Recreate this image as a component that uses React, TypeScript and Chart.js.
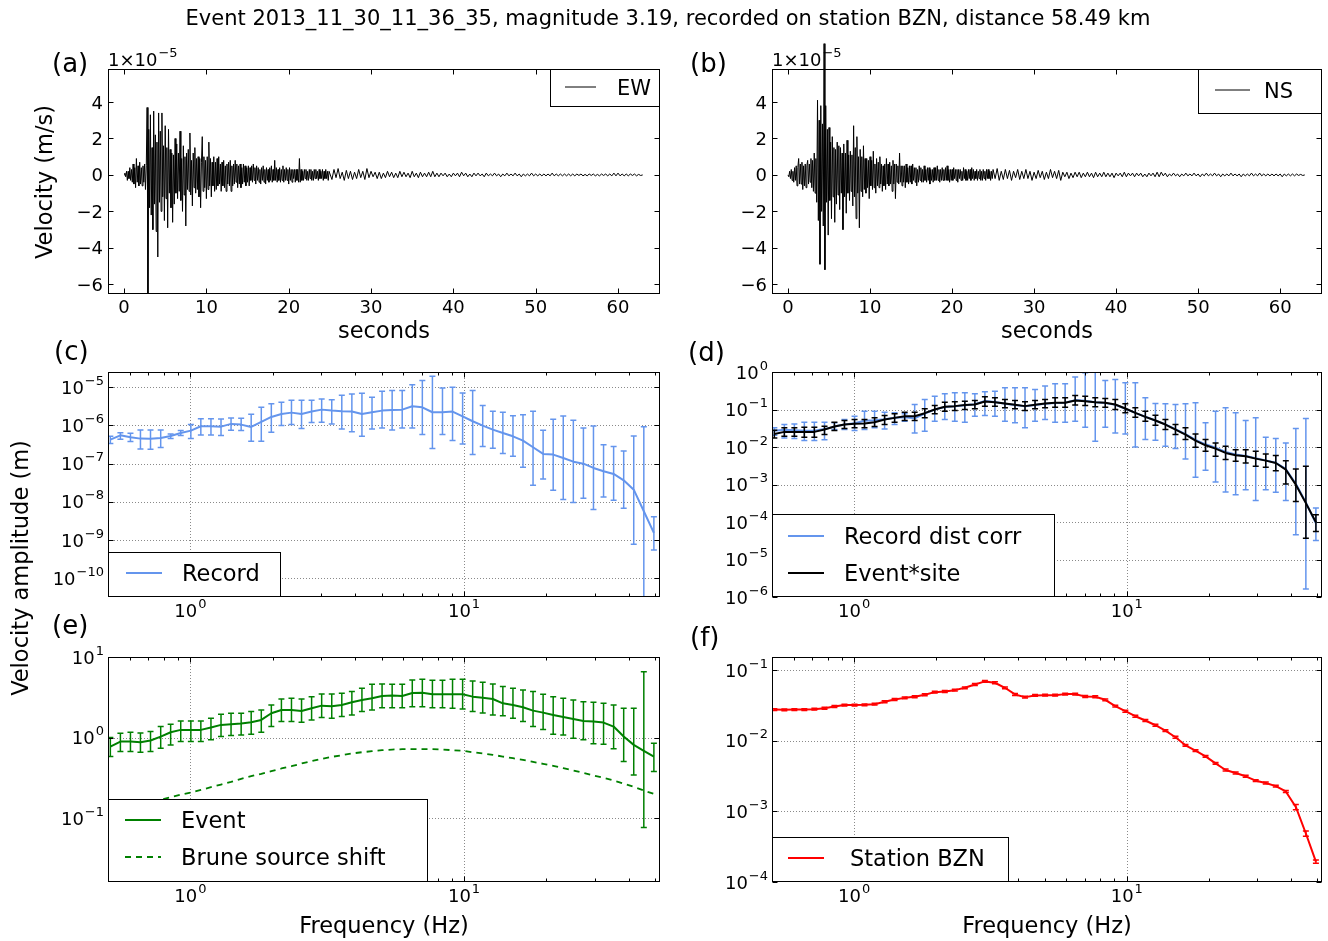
import React, { useEffect, useRef } from "react";
import { Chart, registerables } from "chart.js";

Chart.register(...registerables);

const PAGE_W = 1328;
const PAGE_H = 941;
const FONT = "'DejaVu Sans', 'Bitstream Vera Sans', sans-serif";
const TICK = 18;
const LABEL = 22.5;

const TITLE = "Event 2013_11_30_11_36_35, magnitude 3.19, recorded on station BZN, distance 58.49 km";

// ---- waveforms, velocity in units of 1e-5 m/s ----
const STRONG_DT = 0.1; // s, samples 0 .. 24.9 s
const CODA_T0 = 25;
const CODA_DT = 0.25; // s, samples 25 .. 63 s

const EW_STRONG = [
  0, 0.1, -0.1, 0.2, -0.3, 0.2, -0.2, 0.4, -0.3, 0.3,
  -0.4, 0.6, -0.5, 0.4, -0.7, 0.9, -0.4, 0.5, -0.6, 0.7,
  -0.5, 0.4, -0.6, 0.5, -0.4, 0.6, -0.8, 0.5, 3.7, -6.55,
  2.5, -1.8, 3.3, -2.2, 1.5, -3.0, 3.5, -1.6, 2.2, -3.1,
  1.8, -4.5, 3.4, -1.5, 2.4, -2.0, 3.4, -1.2, 1.6, -2.5,
  2.7, -1.3, 1.5, -2.9, 2.5, -1.0, 1.4, -1.8, 1.2, -2.6,
  1.1, -1.6, 2.0, -1.0, 1.7, -1.3, 1.2, -0.9, 2.4, -1.4,
  0.9, -2.0, 1.6, -1.1, 1.0, -2.8, 1.2, -0.8, 1.4, -0.9,
  2.3, -1.1, 0.8, -1.7, 1.2, -0.7, 1.5, -1.0, 0.9, -0.8,
  1.0, -1.2, 0.9, -1.8, 0.7, 2.1, -0.9, 1.0, -0.7, 0.8,
  -1.3, 1.0, -0.8, 1.8, -0.6, 0.9, -1.2, 0.7, -0.6, 1.0,
  -0.9, 0.7, -0.8, 0.9, -0.6, 1.0, -0.5, 0.6, -0.9, 0.7,
  -0.6, 0.8, -0.7, 0.5, -0.9, 0.6, -0.5, 0.7, -0.6, 0.8,
  -0.9, 0.5, -0.6, 0.6, -0.5, 0.8, -0.4, 0.6, -0.7, 0.5,
  -0.5, 0.6, -0.7, 0.4, -0.5, 0.6, -0.4, 0.5, -0.6, 0.4,
  -0.4, 0.5, -0.6, 0.4, -0.3, 0.5, -0.4, 0.6, -0.3, 0.4,
  -0.5, 0.5, -0.3, 0.4, -0.4, 0.3, -0.5, 0.4, -0.3, 0.5,
  -0.4, 0.3, -0.5, 0.4, -0.3, 0.3, -0.4, 0.4, -0.3, 0.5,
  -0.4, 0.3, -0.3, 0.8, -0.3, 0.4, -0.4, 0.3, -0.3, 0.4,
  -0.4, 0.3, -0.3, 0.5, -0.4, 0.3, -0.3, 0.4, -0.3, 0.3,
  -0.5, 0.4, -0.3, 0.3, -0.4, 0.3, -0.2, 0.3, -0.4, 0.3,
  -0.3, 0.3, -0.4, 0.9, -0.4, 0.3, -0.3, 0.2, -0.3, 0.3,
  -0.2, 0.3, -0.3, 0.2, -0.3, 0.3, -0.2, 0.3, -0.3, 0.2,
  -0.3, 0.3, -0.2, 0.3, -0.2, 0.2, -0.3, 0.3, -0.2, 0.2,
  -0.2, 0.3, -0.3, 0.2, -0.2, 0.3, -0.2, 0.2, -0.3, 0.2,
];
const EW_CODA = [
  0.2, -0.25, 0.3, -0.15, 0.35, -0.2, 0.15, -0.3,
  0.25, -0.2, 0.2, -0.25, 0.15, -0.2, 0.3, -0.15,
  0.2, -0.25, 0.35, -0.15, 0.2, -0.1, 0.15, -0.2,
  0.15, -0.2, 0.1, -0.15, 0.2, -0.1, 0.15, -0.15,
  0.1, -0.15, 0.2, -0.1, 0.15, -0.1, 0.1, -0.15,
  0.2, -0.1, 0.1, -0.15, 0.15, -0.1, 0.1, -0.1,
  0.15, -0.1, 0.2, -0.1, 0.1, -0.1, 0.1, -0.05,
  0.1, -0.1, 0.05, -0.1, 0.1, -0.05, 0.1, -0.1,
  0.15, -0.05, 0.1, -0.1, 0.05, -0.1, 0.1, -0.05,
  0.1, -0.05, 0.05, -0.1, 0.1, -0.05, 0.05, -0.05,
  0.1, -0.05, 0.05, -0.1, 0.05, -0.05, 0.1, -0.05,
  0.05, -0.05, 0.1, -0.05, 0.05, -0.1, 0.05, -0.05,
  0.05, -0.05, 0.1, -0.05, 0.05, -0.05, 0.05, -0.05,
  0.05, -0.05, 0.05, -0.05, 0.1, -0.05, 0.05, -0.05,
  0.05, -0.05, 0.05, -0.05, 0.05, -0.05, 0.05, -0.05,
  0.05, -0.03, 0.05, -0.05, 0.03, -0.05, 0.05, -0.03,
  0.05, -0.05, 0.03, -0.05, 0.05, -0.03, 0.05, -0.05,
  0.05, -0.05, 0.1, -0.05, 0.1, -0.05, 0.05, -0.05,
  0.05, -0.05, 0.05, -0.03, 0.05, -0.05, 0.03, -0.03,
  0,
];
const NS_STRONG = [
  0, -0.1, 0.2, -0.2, 0.3, -0.3, 0.2, -0.4, 0.4, -0.3,
  0.5, -0.6, 0.4, 0.9, -0.5, 0.6, -0.5, 0.7, -0.8, 0.5,
  -0.6, 0.6, -0.7, 0.5, 0.8, -0.5, 0.6, -0.4, 0.9, -0.7,
  0.8, -0.9, 1.2, -1.0, 0.9, -1.5, 4.1, -2.5, 3.0, -4.9,
  3.8, -2.0, 2.8, -2.8, 7.2, -5.2, 3.8, -1.5, 2.5, -3.3,
  2.6, -1.4, 1.8, -2.4, 2.1, -1.2, 1.5, -2.6, 1.4, -1.6,
  1.8, -1.1, 1.6, -1.9, 1.5, -1.0, 1.2, -3.0, 1.7, -1.2,
  1.2, -2.1, 1.9, -1.0, 1.1, -1.4, 1.3, -0.9, 1.1, -1.7,
  2.7, -1.2, 1.5, -2.4, 2.1, -1.0, 1.0, -2.9, 1.4, -0.9,
  1.0, -1.2, 1.6, -0.8, 0.9, -1.0, 0.9, -0.7, 0.8, -1.3,
  1.0, -0.6, 0.8, -0.8, 1.3, -0.7, 0.6, -1.0, 0.9, -0.6,
  0.7, -0.7, 1.0, -0.5, 0.6, -0.9, 0.5, -0.6, 0.6, -0.8,
  0.9, -0.5, 0.6, -0.6, 0.7, -0.5, 0.5, -0.9, 0.8, -0.5,
  0.6, -1.3, 0.6, -0.4, 0.5, -0.5, 1.2, -0.4, 0.5, -0.6,
  0.5, -0.4, 0.5, -0.7, 0.6, -0.4, 0.4, -0.5, 0.5, -0.4,
  0.5, -0.5, 0.6, -0.3, 0.4, -0.4, 0.4, -0.6, 0.3, -0.4,
  0.5, -0.3, 0.4, -0.4, 0.3, -0.4, 0.5, -0.3, 0.3, -0.4,
  0.4, -0.3, 0.4, -0.5, 0.3, -0.3, 0.3, -0.4, 0.4, -0.3,
  0.4, -0.3, 0.5, -0.3, 0.3, -0.4, 0.3, -0.3, 0.4, -0.3,
  0.3, -0.3, 0.4, -0.3, 0.5, -0.3, 0.3, -0.4, 0.3, -0.3,
  0.3, -0.3, 0.4, -0.2, 0.3, -0.3, 0.3, -0.4, 0.3, -0.2,
  0.3, -0.3, 0.2, -0.3, 0.4, -0.2, 0.3, -0.3, 0.2, -0.3,
  0.3, -0.2, 0.3, -0.3, 0.4, -0.2, 0.3, -0.3, 0.2, -0.2,
  0.3, -0.3, 0.2, -0.2, 0.3, -0.3, 0.2, -0.3, 0.3, -0.2,
  0.2, -0.3, 0.3, -0.2, 0.3, -0.2, 0.2, -0.3, 0.2, -0.2,
];
const NS_CODA = [
  0.3, -0.2, 0.35, -0.3, 0.2, -0.25, 0.3, -0.2,
  0.25, -0.3, 0.2, -0.15, 0.3, -0.25, 0.2, -0.2,
  0.3, -0.2, 0.2, -0.3, 0.15, -0.2, 0.25, -0.15,
  0.2, -0.25, 0.15, -0.2, 0.3, -0.15, 0.2, -0.2,
  0.25, -0.3, 0.15, -0.1, 0.15, -0.2, 0.1, -0.15,
  0.15, -0.1, 0.15, -0.15, 0.1, -0.1, 0.15, -0.1,
  0.1, -0.15, 0.15, -0.1, 0.1, -0.1, 0.15, -0.1,
  0.1, -0.1, 0.1, -0.15, 0.1, -0.05, 0.1, -0.1,
  0.15, -0.1, 0.1, -0.05, 0.1, -0.1, 0.1, -0.05,
  0.1, -0.1, 0.05, -0.1, 0.1, -0.05, 0.1, -0.1,
  0.15, -0.1, 0.15, -0.05, 0.1, -0.1, 0.05, -0.05,
  0.1, -0.05, 0.05, -0.1, 0.05, -0.05, 0.1, -0.05,
  0.05, -0.05, 0.1, -0.05, 0.05, -0.1, 0.05, -0.05,
  0.1, -0.05, 0.05, -0.05, 0.1, -0.05, 0.05, -0.1,
  0.05, -0.05, 0.05, -0.05, 0.1, -0.05, 0.05, -0.05,
  0.05, -0.1, 0.05, -0.05, 0.05, -0.05, 0.1, -0.05,
  0.05, -0.05, 0.1, -0.05, 0.05, -0.05, 0.05, -0.05,
  0.05, -0.05, 0.05, -0.05, 0.05, -0.1, 0.05, -0.05,
  0.05, -0.05, 0.05, -0.05, 0.05, -0.03, 0.03, -0.03,
  0,
];

const SECONDS_TICKS = [0, 10, 20, 30, 40, 50, 60];
const VEL_TICKS = [-6, -4, -2, 0, 2, 4];

// ---- spectra ----
const FREQ = [
  0.510, 0.555, 0.604, 0.657, 0.715, 0.779, 0.847, 0.922, 1.004, 1.092,
  1.189, 1.294, 1.408, 1.533, 1.668, 1.816, 1.976, 2.151, 2.341, 2.548,
  2.773, 3.018, 3.285, 3.575, 3.891, 4.235, 4.610, 5.017, 5.461, 5.943,
  6.469, 7.040, 7.663, 8.340, 9.077, 9.880, 10.75, 11.70, 12.74, 13.86,
  15.09, 16.42, 17.87, 19.45, 21.17, 23.04, 25.08, 27.30, 29.71, 32.34,
  35.20, 38.31, 41.69, 45.38, 49.39,
];
const FREQ_MAJOR = [1, 10];
const FREQ_MINOR = [0.5, 0.6, 0.7, 0.8, 0.9, 2, 3, 4, 5, 6, 7, 8, 9, 20, 30, 40, 50];

// (c) Record
const REC = [
  4.27e-7, 5.53e-7, 4.91e-7, 4.53e-7, 4.5e-7, 4.72e-7, 5.32e-7, 6.38e-7, 7.34e-7, 9.53e-7,
  9.5e-7, 9.33e-7, 1.10e-6, 1.054e-6, 9.16e-7, 1.24e-6, 1.67e-6, 2.00e-6, 2.17e-6, 2.00e-6,
  2.31e-6, 2.60e-6, 2.45e-6, 2.36e-6, 2.31e-6, 2.00e-6, 2.22e-6, 2.45e-6, 2.55e-6, 2.60e-6,
  3.18e-6, 2.99e-6, 2.22e-6, 2.22e-6, 2.31e-6, 1.74e-6, 1.29e-6, 9.93e-7, 7.80e-7, 6.38e-7,
  5.21e-7, 4.02e-7, 2.69e-7, 1.80e-7, 1.73e-7, 1.41e-7, 1.13e-7, 1.00e-7, 7.73e-8, 6.32e-8,
  5.38e-8, 3.67e-8, 2.09e-8, 5.68e-9, 1.54e-9,
];
const REC_HI = [
  5.21e-7, 6.50e-7, 6.25e-7, 7.64e-7, 7.6e-7, 7.64e-7, 6.00e-7, 7.34e-7, 1.054e-6, 1.51e-6,
  1.51e-6, 1.48e-6, 1.57e-6, 1.54e-6, 1.96e-6, 2.99e-6, 3.73e-6, 4.05e-6, 4.57e-6, 4.57e-6,
  4.57e-6, 4.95e-6, 4.75e-6, 6.18e-6, 6.68e-6, 6.97e-6, 5.47e-6, 7.85e-6, 8.18e-6, 8.18e-6,
  1.17e-5, 1.50e-5, 1.94e-5, 9.6e-6, 1.0e-5, 7.11e-6, 8.18e-6, 3.31e-6, 2.36e-6, 2.22e-6,
  1.81e-6, 1.92e-6, 2.36e-6, 7.48e-7, 1.45e-6, 1.78e-6, 1.37e-6, 8.61e-7, 9.72e-7, 3.15e-7,
  2.80e-7, 2.15e-7, 5.32e-7, 9.33e-7, 4.11e-9,
];
const REC_LO = [
  3.35e-7, 4.36e-7, 3.78e-7, 2.43e-7, 2.4e-7, 2.64e-7, 4.53e-7, 5.43e-7, 4.53e-7, 5.65e-7,
  5.65e-7, 5.43e-7, 7.48e-7, 7.34e-7, 3.85e-7, 3.85e-7, 6.64e-7, 9.93e-7, 1.054e-6, 8.28e-7,
  1.19e-6, 1.21e-6, 1.10e-6, 8.11e-7, 6.90e-7, 5.21e-7, 8.11e-7, 8.61e-7, 7.64e-7, 8.61e-7,
  8.61e-7, 5.77e-7, 2.48e-7, 5.77e-7, 4.02e-7, 3.29e-7, 1.73e-7, 2.80e-7, 2.53e-7, 1.84e-7,
  1.56e-7, 8.05e-8, 2.72e-8, 3.98e-8, 2.01e-8, 1.15e-8, 9.57e-9, 1.24e-8, 6.28e-9, 1.35e-8,
  1.10e-8, 6.79e-9, 7.76e-10, 0, 5.52e-10,
];

// (d) Record dist corr (blue) and Event*site (black)
const REC_CORR = [
  0.027, 0.029, 0.028, 0.027, 0.027, 0.030, 0.035, 0.040, 0.043, 0.050,
  0.052, 0.055, 0.060, 0.062, 0.058, 0.078, 0.100, 0.117, 0.122, 0.130,
  0.138, 0.168, 0.158, 0.143, 0.131, 0.122, 0.131, 0.143, 0.150, 0.152,
  0.178, 0.170, 0.155, 0.148, 0.134, 0.105, 0.081, 0.064, 0.051, 0.040,
  0.030, 0.022, 0.0155, 0.0118, 0.0096, 0.0074, 0.0063, 0.0058, 0.0050, 0.0044,
  0.0038, 0.0026, 0.00105, 0.00033, 0.000092,
];
const REC_CORR_HI = [
  0.0324, 0.0397, 0.0413, 0.0458, 0.0458, 0.0458, 0.0440, 0.0541, 0.0664, 0.0902,
  0.0902, 0.0849, 0.0815, 0.0766, 0.136, 0.185, 0.227, 0.262, 0.279, 0.279,
  0.262, 0.297, 0.309, 0.379, 0.379, 0.379, 0.342, 0.421, 0.486, 0.486,
  0.733, 0.955, 1.15, 0.596, 0.634, 0.516, 0.516, 0.205, 0.145, 0.142,
  0.136, 0.142, 0.151, 0.0440, 0.0902, 0.111, 0.0815, 0.0508, 0.0598, 0.0182,
  0.0168, 0.01285, 0.0310, 0.0574, 0.000235,
];
const REC_CORR_LO = [
  0.0206, 0.01746, 0.0168, 0.0148, 0.0148, 0.0155, 0.0292, 0.0292, 0.0275, 0.0292,
  0.0324, 0.0304, 0.0397, 0.0488, 0.0238, 0.0264, 0.0488, 0.0541, 0.0488, 0.0458,
  0.0664, 0.0692, 0.0664, 0.0488, 0.0440, 0.0324, 0.0488, 0.0541, 0.0458, 0.0458,
  0.0488, 0.0337, 0.0142, 0.0337, 0.0238, 0.0223, 0.01005, 0.0158, 0.0151, 0.01047,
  0.00906, 0.00480, 0.00155, 0.00239, 0.00116, 0.00063, 0.000533, 0.000726, 0.000377, 0.000726,
  0.000617, 0.000377, 0.0000455, 0.00000164, 0.000032,
];
const EV_SITE = [
  0.0223, 0.0253, 0.0253, 0.0253, 0.0253, 0.0292, 0.0351, 0.0397, 0.0414, 0.0423,
  0.0458, 0.0541, 0.0598, 0.0664, 0.0664, 0.0798, 0.100, 0.118, 0.123, 0.131,
  0.136, 0.164, 0.157, 0.145, 0.133, 0.123, 0.133, 0.145, 0.151, 0.151,
  0.174, 0.167, 0.157, 0.151, 0.136, 0.106, 0.0815, 0.0637, 0.0508, 0.0397,
  0.0292, 0.0215, 0.0148, 0.0111, 0.00906, 0.00694, 0.00601, 0.00565, 0.00490, 0.00433,
  0.00375, 0.00249, 0.000989, 0.000319, 0.000099,
];
const EV_SITE_HI = [
  0.0280, 0.0324, 0.0324, 0.0337, 0.0337, 0.0358, 0.0458, 0.0508, 0.0541, 0.0541,
  0.0598, 0.0692, 0.0766, 0.0849, 0.0849, 0.1043, 0.128, 0.157, 0.160, 0.167,
  0.174, 0.218, 0.205, 0.185, 0.174, 0.160, 0.174, 0.185, 0.205, 0.205,
  0.237, 0.227, 0.205, 0.197, 0.185, 0.142, 0.111, 0.0902, 0.0705, 0.0541,
  0.0397, 0.0324, 0.0223, 0.0158, 0.01285, 0.01047, 0.00851, 0.00851, 0.00769, 0.00653,
  0.00589, 0.00433, 0.00259, 0.00305, 0.000156,
];
const EV_SITE_LO = [
  0.01746, 0.0194, 0.0194, 0.0182, 0.0182, 0.0215, 0.0275, 0.0310, 0.0324, 0.0324,
  0.0351, 0.0397, 0.0458, 0.0508, 0.0508, 0.0598, 0.0766, 0.0902, 0.0940, 0.100,
  0.104, 0.123, 0.123, 0.111, 0.104, 0.094, 0.104, 0.111, 0.1154, 0.1154,
  0.131, 0.128, 0.118, 0.115, 0.100, 0.0815, 0.0624, 0.0488, 0.0381, 0.0292,
  0.0215, 0.0158, 0.00984, 0.00769, 0.00565, 0.00461, 0.00416, 0.00375, 0.00305, 0.00287,
  0.00234, 0.00103, 0.000354, 0.000037, 0.0000558,
];

// (e) Event and Brune source shift
const EVENT = [
  0.773, 0.892, 0.892, 0.875, 0.918, 1.029, 1.164, 1.245, 1.245, 1.245,
  1.330, 1.436, 1.463, 1.492, 1.549, 1.656, 2.004, 2.20, 2.20, 2.14,
  2.31, 2.49, 2.44, 2.54, 2.74, 2.93, 3.07, 3.28, 3.32, 3.28,
  3.58, 3.61, 3.44, 3.44, 3.44, 3.44, 3.22, 3.13, 3.01, 2.66,
  2.54, 2.38, 2.16, 2.04, 1.91, 1.80, 1.70, 1.61, 1.578, 1.535,
  1.369, 1.029, 0.811, 0.684, 0.581,
];
const EVENT_HI = [
  1.0, 1.132, 1.164, 1.143, 1.187, 1.369, 1.463, 1.609, 1.609, 1.609,
  1.737, 1.946, 2.004, 2.004, 2.10, 2.20, 2.54, 3.01, 3.07, 3.01,
  3.22, 3.48, 3.48, 3.55, 3.72, 4.09, 4.58, 4.62, 4.58, 4.58,
  5.19, 5.29, 5.14, 5.14, 5.29, 5.29, 5.04, 4.85, 4.62, 4.29,
  4.09, 3.90, 3.72, 3.44, 3.22, 3.07, 2.93, 2.79, 2.74, 2.66,
  2.54, 2.31, 2.31, 6.58, 0.851,
];
const EVENT_LO = [
  0.581, 0.670, 0.670, 0.658, 0.670, 0.738, 0.811, 0.892, 0.892, 0.892,
  0.936, 1.029, 1.059, 1.079, 1.10, 1.164, 1.369, 1.578, 1.578, 1.549,
  1.656, 1.770, 1.737, 1.82, 1.91, 2.10, 2.20, 2.35, 2.35, 2.35,
  2.42, 2.42, 2.35, 2.35, 2.31, 2.27, 2.10, 2.02, 1.91, 1.87,
  1.737, 1.578, 1.369, 1.256, 1.10, 1.079, 0.981, 0.936, 0.835, 0.827,
  0.724, 0.504, 0.344, 0.0766, 0.379,
];
const BRUNE = [
  0.112, 0.122, 0.132, 0.144, 0.156, 0.169, 0.182, 0.195, 0.208, 0.224,
  0.242, 0.261, 0.282, 0.307, 0.332, 0.355, 0.383, 0.413, 0.441, 0.476,
  0.509, 0.544, 0.576, 0.604, 0.634, 0.658, 0.677, 0.697, 0.710, 0.717,
  0.717, 0.717, 0.717, 0.710, 0.697, 0.684, 0.658, 0.634, 0.610, 0.581,
  0.554, 0.529, 0.499, 0.472, 0.446, 0.417, 0.390, 0.365, 0.338, 0.316,
  0.293, 0.269, 0.245, 0.220, 0.200,
];

// (f) Station BZN
const STATION = [
  0.0279, 0.0276, 0.0279, 0.0279, 0.0282, 0.0291, 0.0308, 0.0322, 0.0322, 0.0325,
  0.0332, 0.0359, 0.0387, 0.0408, 0.0423, 0.0451, 0.0492, 0.0503, 0.0525, 0.0567,
  0.0632, 0.0698, 0.0668, 0.0567, 0.0456, 0.0418, 0.0442, 0.0446, 0.0446, 0.0461,
  0.0461, 0.0427, 0.0423, 0.0383, 0.0311, 0.0264, 0.0224, 0.0195, 0.0167, 0.0140,
  0.01128, 0.00867, 0.00729, 0.00605, 0.00481, 0.00387, 0.00351, 0.00315, 0.00273, 0.00253,
  0.00229, 0.00192, 0.00116, 0.000487, 0.000195,
];
const STATION_ERR = [
  0.0008, 0.0008, 0.0008, 0.0008, 0.0008, 0.0009, 0.0009, 0.001, 0.001, 0.001,
  0.001, 0.0011, 0.0012, 0.0012, 0.0013, 0.0014, 0.0015, 0.0015, 0.0016, 0.0017,
  0.0019, 0.0021, 0.002, 0.0017, 0.0014, 0.0013, 0.0013, 0.0013, 0.0013, 0.0014,
  0.0014, 0.0013, 0.0013, 0.0011, 0.0009, 0.0008, 0.0007, 0.0006, 0.0005, 0.0004,
  0.00034, 0.00026, 0.00022, 0.00018, 0.00014, 0.00012, 0.00011, 0.0001, 0.00008, 0.00008,
  0.00007, 0.00007, 0.0001, 0.00004, 0.00001,
];

const BLUE = "#6495ED";
const GREEN = "#008000";
const RED = "#FF0000";
const BLACK = "#000000";

// ---- helpers ----
type Pt = { x: number; y: number };
const zip = (xs: number[], ys: number[]): Pt[] => xs.map((x, i) => ({ x, y: ys[i] }));
const trace = (strong: number[], coda: number[]): Pt[] => [
  ...strong.map((v, i) => ({ x: i * STRONG_DT, y: v })),
  ...coda.map((v, j) => ({ x: CODA_T0 + j * CODA_DT, y: v })),
];
const minus = (s: string) => s.replace("-", "\u2212");

function supText(ctx: CanvasRenderingContext2D, base: string, exp: string, x: number, y: number, size: number, align: string) {
  const es = Math.round(size * 0.72);
  ctx.font = `${size}px ${FONT}`;
  const wb = ctx.measureText(base).width;
  ctx.font = `${es}px ${FONT}`;
  const we = ctx.measureText(exp).width;
  const total = wb + 1 + we;
  const x0 = align === "right" ? x - total : align === "center" ? x - total / 2 : x;
  ctx.textAlign = "left";
  ctx.textBaseline = "alphabetic";
  ctx.font = `${size}px ${FONT}`;
  ctx.fillText(base, x0, y);
  ctx.font = `${es}px ${FONT}`;
  ctx.fillText(exp, x0 + wb + 1, y - size * 0.5);
}

function drawGrid(chart: any, p: any) {
  const ctx = chart.ctx, a = chart.chartArea, sx = chart.scales.x, sy = chart.scales.y;
  ctx.save();
  ctx.strokeStyle = "#8a8a8a";
  ctx.lineWidth = 1;
  ctx.setLineDash([1, 2]);
  ctx.beginPath();
  p.x.major.forEach((v: number) => {
    const x = Math.round(sx.getPixelForValue(v)) + 0.5;
    if (x < a.left + 2 || x > a.right - 2) return;
    ctx.moveTo(x, a.top);
    ctx.lineTo(x, a.bottom);
  });
  p.y.major.forEach((v: number) => {
    const y = Math.round(sy.getPixelForValue(v)) + 0.5;
    if (y < a.top + 2 || y > a.bottom - 2) return;
    ctx.moveTo(a.left, y);
    ctx.lineTo(a.right, y);
  });
  ctx.stroke();
  ctx.restore();
}

function drawErr(chart: any, e: any) {
  const ctx = chart.ctx, a = chart.chartArea, sx = chart.scales.x, sy = chart.scales.y;
  ctx.save();
  ctx.beginPath();
  ctx.rect(a.left, a.top, a.right - a.left, a.bottom - a.top);
  ctx.clip();
  ctx.strokeStyle = e.color;
  ctx.lineWidth = e.lw;
  ctx.setLineDash([]);
  ctx.beginPath();
  e.xs.forEach((f: number, i: number) => {
    const px = sx.getPixelForValue(f);
    const yl = e.lo[i] > 0 ? sy.getPixelForValue(e.lo[i]) : a.bottom + 20;
    const yh = sy.getPixelForValue(e.hi[i]);
    ctx.moveTo(px, yl);
    ctx.lineTo(px, yh);
    if (e.lo[i] > 0) {
      ctx.moveTo(px - e.cap, yl);
      ctx.lineTo(px + e.cap, yl);
    }
    ctx.moveTo(px - e.cap, yh);
    ctx.lineTo(px + e.cap, yh);
  });
  ctx.stroke();
  ctx.restore();
}

function expLabel(v: number) {
  return minus(String(Math.round(Math.log10(v))));
}

function drawAxes(chart: any, p: any) {
  const ctx = chart.ctx, a = chart.chartArea, sx = chart.scales.x, sy = chart.scales.y;
  const L = Math.round(a.left) + 0.5, R = Math.round(a.right) - 0.5;
  const T = Math.round(a.top) + 0.5, B = Math.round(a.bottom) - 0.5;
  ctx.save();
  ctx.strokeStyle = BLACK;
  ctx.fillStyle = BLACK;
  ctx.lineWidth = 1;
  ctx.setLineDash([]);
  ctx.beginPath();
  const vt = (v: number, len: number) => {
    const x = Math.round(sx.getPixelForValue(v)) + 0.5;
    ctx.moveTo(x, B); ctx.lineTo(x, B - len);
    ctx.moveTo(x, T); ctx.lineTo(x, T + len);
  };
  const ht = (v: number, len: number) => {
    const y = Math.round(sy.getPixelForValue(v)) + 0.5;
    ctx.moveTo(L, y); ctx.lineTo(L + len, y);
    ctx.moveTo(R, y); ctx.lineTo(R - len, y);
  };
  p.x.major.forEach((v: number) => vt(v, 5));
  p.x.minor.forEach((v: number) => vt(v, 3));
  p.y.major.forEach((v: number) => ht(v, 5));
  ctx.stroke();
  ctx.strokeRect(L, T, R - L, B - T);

  p.x.major.forEach((v: number) => {
    const x = sx.getPixelForValue(v);
    if (p.x.log) {
      supText(ctx, "10", expLabel(v), x, a.bottom + 20, TICK, "center");
    } else {
      ctx.font = `${TICK}px ${FONT}`;
      ctx.textAlign = "center";
      ctx.textBaseline = "alphabetic";
      ctx.fillText(minus(String(v)), x, a.bottom + 19);
    }
  });
  p.y.major.forEach((v: number) => {
    const y = sy.getPixelForValue(v);
    if (p.y.log) {
      supText(ctx, "10", expLabel(v), a.left - 4, y + 6.5, TICK, "right");
    } else {
      ctx.font = `${TICK}px ${FONT}`;
      ctx.textAlign = "right";
      ctx.textBaseline = "alphabetic";
      ctx.fillText(minus(String(v)), a.left - 5, y + 6.5);
    }
  });
  ctx.restore();
}

function drawLegend(ctx: CanvasRenderingContext2D, lg: any) {
  ctx.save();
  ctx.fillStyle = "#fff";
  ctx.fillRect(lg.x, lg.y, lg.w, lg.h);
  ctx.strokeStyle = BLACK;
  ctx.lineWidth = 1;
  ctx.setLineDash([]);
  ctx.strokeRect(lg.x + 0.5, lg.y + 0.5, lg.w - 1, lg.h - 1);
  lg.rows.forEach((r: any, i: number) => {
    const cy = lg.y0 + i * 37;
    ctx.strokeStyle = r.color;
    ctx.lineWidth = r.width;
    ctx.setLineDash(r.dash || []);
    ctx.beginPath();
    ctx.moveTo(lg.lx0, cy);
    ctx.lineTo(lg.lx1, cy);
    ctx.stroke();
    ctx.setLineDash([]);
    ctx.fillStyle = BLACK;
    ctx.font = `${lg.size}px ${FONT}`;
    ctx.textAlign = "left";
    ctx.textBaseline = "alphabetic";
    ctx.fillText(r.label, lg.tx, cy + lg.size * 0.36);
  });
  ctx.restore();
}

function drawTexts(ctx: CanvasRenderingContext2D, texts: any[]) {
  ctx.save();
  ctx.fillStyle = BLACK;
  texts.forEach((t) => {
    if (t.exp !== undefined) {
      supText(ctx, t.text, t.exp, t.x, t.y, t.size, t.align || "left");
      return;
    }
    ctx.font = `${t.size}px ${FONT}`;
    ctx.textAlign = t.align || "left";
    if (t.rotate) {
      ctx.save();
      ctx.translate(t.x, t.y);
      ctx.rotate(-Math.PI / 2);
      ctx.textAlign = "center";
      ctx.textBaseline = "middle";
      ctx.fillText(t.text, 0, 0);
      ctx.restore();
    } else {
      ctx.textBaseline = "alphabetic";
      ctx.fillText(t.text, t.x, t.y);
    }
  });
  ctx.restore();
}

// ---- panel layouts ----
const COL_L = { l: 108, r: 660 };
const COL_R = { l: 772, r: 1322 };
const ROW_1 = { t: 69, b: 294 };
const ROW_2 = { t: 372, b: 597 };
const ROW_3 = { t: 657, b: 882 };

const timeX = { log: false, min: -1.95, max: 65.1, major: SECONDS_TICKS, minor: [] as number[] };
const velY = { log: false, min: -6.53, max: 5.81, major: VEL_TICKS, minor: [] as number[] };
const freqX = { log: true, min: 0.5, max: 52, major: FREQ_MAJOR, minor: FREQ_MINOR };

const PANELS: any[] = [
  {
    id: "a", frame: { ...COL_L, ...ROW_1 }, x: timeX, y: velY, grid: false,
    series: [{ data: trace(EW_STRONG, EW_CODA), color: BLACK, width: 1 }],
    legend: { x: 550, y: 69, w: 110, h: 38, y0: 87, lx0: 565, lx1: 596, tx: 617, size: 21, rows: [{ label: "EW", color: BLACK, width: 1 }] },
    texts: [
      { text: TITLE, x: 668, y: 25, size: 21, align: "center" },
      { text: "(a)", x: 52, y: 72, size: 26 },
      { text: "1\u00d710", exp: "\u22125", x: 108, y: 66, size: 18 },
      { text: "Velocity (m/s)", x: 46, y: 182, size: LABEL, rotate: true },
      { text: "seconds", x: 384, y: 338, size: LABEL, align: "center" },
    ],
  },
  {
    id: "b", frame: { ...COL_R, ...ROW_1 }, x: timeX, y: velY, grid: false,
    series: [{ data: trace(NS_STRONG, NS_CODA), color: BLACK, width: 1, clip: false }],
    legend: { x: 1198, y: 69, w: 124, h: 45, y0: 90, lx0: 1215, lx1: 1250, tx: 1264, size: 21, rows: [{ label: "NS", color: BLACK, width: 1 }] },
    texts: [
      { text: "(b)", x: 690, y: 72, size: 26 },
      { text: "1\u00d710", exp: "\u22125", x: 772, y: 66, size: 18 },
      { text: "seconds", x: 1047, y: 338, size: LABEL, align: "center" },
    ],
  },
  {
    id: "c", frame: { ...COL_L, ...ROW_2 }, x: freqX,
    y: { log: true, min: Math.pow(10, -10.49), max: Math.pow(10, -4.6), major: [1e-10, 1e-9, 1e-8, 1e-7, 1e-6, 1e-5], minor: [] },
    grid: true,
    series: [{ data: zip(FREQ, REC), color: BLUE, width: 2, err: { xs: FREQ, lo: REC_LO, hi: REC_HI, color: BLUE, lw: 1.5, cap: 3 } }],
    legend: { x: 108, y: 552, w: 173, h: 45, y0: 573, lx0: 126, lx1: 162, tx: 182, size: LABEL, rows: [{ label: "Record", color: BLUE, width: 2 }] },
    texts: [
      { text: "(c)", x: 54, y: 360, size: 26 },
      { text: "Velocity amplitude (m)", x: 22, y: 568, size: LABEL, rotate: true },
    ],
  },
  {
    id: "d", frame: { ...COL_R, ...ROW_2 }, x: freqX,
    y: { log: true, min: 1e-6, max: 1, major: [1e-6, 1e-5, 1e-4, 1e-3, 1e-2, 1e-1, 1], minor: [] },
    grid: true,
    series: [
      { data: zip(FREQ, EV_SITE), color: BLACK, width: 2, err: { xs: FREQ, lo: EV_SITE_LO, hi: EV_SITE_HI, color: BLACK, lw: 1.5, cap: 3 } },
      { data: zip(FREQ, REC_CORR), color: BLUE, width: 2, err: { xs: FREQ, lo: REC_CORR_LO, hi: REC_CORR_HI, color: BLUE, lw: 1.5, cap: 3 } },
    ],
    legend: {
      x: 772, y: 514, w: 283, h: 83, y0: 536, lx0: 788, lx1: 824, tx: 844, size: LABEL,
      rows: [{ label: "Record dist corr", color: BLUE, width: 2 }, { label: "Event*site", color: BLACK, width: 2 }],
    },
    texts: [{ text: "(d)", x: 688, y: 361, size: 26 }],
  },
  {
    id: "e", frame: { ...COL_L, ...ROW_3 }, x: freqX,
    y: { log: true, min: Math.pow(10, -1.793), max: 10, major: [0.1, 1, 10], minor: [] },
    grid: true,
    series: [
      { data: zip(FREQ, EVENT), color: GREEN, width: 2, err: { xs: FREQ, lo: EVENT_LO, hi: EVENT_HI, color: GREEN, lw: 1.5, cap: 3 } },
      { data: zip(FREQ, BRUNE), color: GREEN, width: 1.8, dash: [6, 5] },
    ],
    legend: {
      x: 108, y: 799, w: 320, h: 83, y0: 820, lx0: 125, lx1: 161, tx: 181, size: LABEL,
      rows: [{ label: "Event", color: GREEN, width: 2 }, { label: "Brune source shift", color: GREEN, width: 1.8, dash: [6, 5] }],
    },
    texts: [
      { text: "(e)", x: 52, y: 634, size: 26 },
      { text: "Frequency (Hz)", x: 384, y: 933, size: LABEL, align: "center" },
    ],
  },
  {
    id: "f", frame: { ...COL_R, ...ROW_3 }, x: freqX,
    y: { log: true, min: 1e-4, max: Math.pow(10, -0.81), major: [1e-4, 1e-3, 1e-2, 1e-1], minor: [] },
    grid: true,
    series: [{
      data: zip(FREQ, STATION), color: RED, width: 2,
      err: { xs: FREQ, lo: STATION.map((v, i) => v - STATION_ERR[i]), hi: STATION.map((v, i) => v + STATION_ERR[i]), color: RED, lw: 1.5, cap: 3 },
    }],
    legend: { x: 772, y: 837, w: 237, h: 45, y0: 858, lx0: 788, lx1: 824, tx: 850, size: LABEL, rows: [{ label: "Station BZN", color: RED, width: 2 }] },
    texts: [
      { text: "(f)", x: 690, y: 646, size: 26 },
      { text: "Frequency (Hz)", x: 1047, y: 933, size: LABEL, align: "center" },
    ],
  },
];

function makePlugin(p: any) {
  return {
    id: "mpl_" + p.id,
    beforeDatasetsDraw(chart: any) {
      if (p.grid) drawGrid(chart, p);
    },
    afterDatasetDraw(chart: any, args: any) {
      const s = p.series[args.index];
      if (s && s.err) drawErr(chart, s.err);
    },
    afterDraw(chart: any) {
      drawAxes(chart, p);
      drawLegend(chart.ctx, p.legend);
      drawTexts(chart.ctx, p.texts);
    },
  };
}

function PanelCanvas({ p }: { p: any }) {
  const ref = useRef<HTMLCanvasElement>(null);
  useEffect(() => {
    const canvas = ref.current;
    if (!canvas) return;
    const chart = new Chart(canvas, {
      type: "line",
      data: {
        datasets: p.series.map((s: any) => ({
          data: s.data,
          borderColor: s.color,
          backgroundColor: s.color,
          borderWidth: s.width,
          borderDash: s.dash || [],
          borderJoinStyle: "round",
          pointRadius: 0,
          pointHoverRadius: 0,
          tension: 0,
          fill: false,
          clip: s.clip === false ? false : undefined,
        })),
      },
      options: {
        animation: false,
        responsive: false,
        maintainAspectRatio: false,
        devicePixelRatio: 1,
        events: [],
        layout: {
          padding: { left: p.frame.l, top: p.frame.t, right: PAGE_W - p.frame.r, bottom: PAGE_H - p.frame.b },
        },
        plugins: { legend: { display: false }, tooltip: { enabled: false }, title: { display: false } },
        scales: {
          x: { type: p.x.log ? "logarithmic" : "linear", min: p.x.min, max: p.x.max, display: false },
          y: { type: p.y.log ? "logarithmic" : "linear", min: p.y.min, max: p.y.max, display: false },
        },
      } as any,
      plugins: [makePlugin(p)],
    } as any);
    return () => chart.destroy();
  }, [p]);
  return (
    <canvas
      ref={ref}
      width={PAGE_W}
      height={PAGE_H}
      style={{ position: "absolute", left: 0, top: 0, width: PAGE_W, height: PAGE_H }}
    />
  );
}

export default function App() {
  return (
    <div style={{ position: "fixed", left: 0, top: 0, width: PAGE_W, height: PAGE_H, background: "#fff", overflow: "hidden" }}>
      {PANELS.map((p) => (
        <PanelCanvas key={p.id} p={p} />
      ))}
    </div>
  );
}
